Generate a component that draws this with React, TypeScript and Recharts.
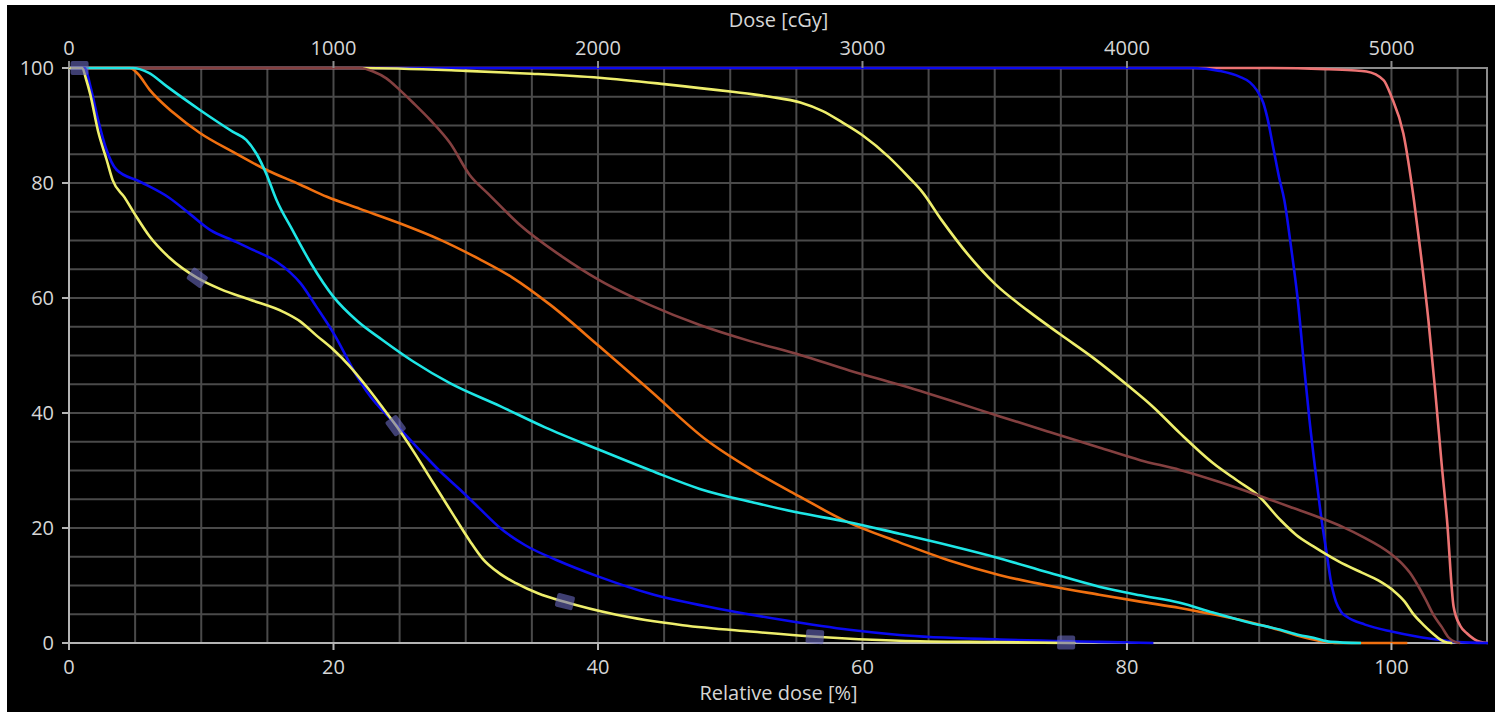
import { ComposedChart, Line, Scatter, XAxis, YAxis, CartesianGrid } from 'recharts';

// relative dose [%] vs volume [%]
const X_MAX = 107.3;
const PRESCRIPTION = 5000; // cGy at 100 %

const relTicks = [0, 20, 40, 60, 80, 100];
const doseTicks = [0, 1000, 2000, 3000, 4000, 5000];
const volTicks = [0, 20, 40, 60, 80, 100];
const gridX = [5, 10, 15, 20, 25, 30, 35, 40, 45, 50, 55, 60, 65, 70, 75, 80, 85, 90, 95, 100, 105];
const gridY = [5, 10, 15, 20, 25, 30, 35, 40, 45, 50, 55, 60, 65, 70, 75, 80, 85, 90, 95];

const toPts = (rows: number[][]) => rows.map(([x, y]) => ({ x, y }));

const redCurve = toPts([
  [0, 100], [90, 100], [95, 99.8], [97, 99.6], [98.1, 99.4], [99.4, 97.9], [100, 95], [100.9, 88.6],
  [101.7, 77], [102.2, 68], [102.8, 56], [103.3, 44], [103.8, 31], [104.2, 21.4], [104.7, 6.3], [105.2, 3],
  [105.7, 1.7], [106.7, 0.2], [107.3, 0],
]);

const blueRight = toPts([
  [0, 100], [85, 100], [87, 99.5], [88.5, 98.5], [89.3, 97.5], [89.8, 96.2], [90.3, 94], [90.6, 91.5],
  [91.1, 85.7], [91.5, 81], [91.9, 77], [92.4, 69], [92.9, 60], [93.4, 48], [93.8, 38.8], [94.3, 29],
  [94.7, 21.7], [95.1, 15.6], [95.4, 11], [95.8, 7.2], [96.2, 5.4], [96.6, 4.6], [98, 3.2], [100, 2],
  [102, 1.1], [103.8, 0.5], [105, 0.15], [107.3, 0],
]);

const brownCurve = toPts([
  [0, 100], [22, 100], [23, 99.4], [24, 98.2], [25, 96.2], [26, 94], [27.3, 91], [28.8, 87], [30.3, 81.4],
  [31.8, 77.9], [34.1, 72.7], [37.1, 67.5], [40.1, 63.1], [43.9, 58.8], [47.7, 55.3], [51.5, 52.5],
  [55.3, 50.1], [59, 47.4], [62.8, 44.9], [66.6, 42.2], [70.4, 39.4], [74, 36.8], [77.9, 34], [81, 31.8],
  [84, 30.1], [87, 28], [89.9, 25.7], [92.3, 23.7], [94.7, 21.7], [96.3, 20.2], [97.8, 18.5], [99.9, 15.6],
  [100.8, 13.8], [101.4, 12.2], [102, 10], [102.6, 7.5], [103.2, 4.8], [103.8, 2.8], [104.3, 1],
  [104.8, 0.2], [105.2, 0],
]);

const yellowRight = toPts([
  [0, 100], [22, 100], [30, 99.5], [35, 99], [40.1, 98.3], [45, 97.2], [50, 95.9], [53, 95], [55.3, 94],
  [57, 92.5], [58.5, 90.5], [60, 88.3], [62, 84.5], [63.5, 81], [64.5, 78.5], [66, 73.5], [68, 67.5],
  [70, 62.5], [72.5, 57.8], [75, 53.6], [77.5, 49.5], [80, 44.9], [82, 41], [84, 36.5], [86.5, 31.3],
  [88.5, 28], [89.9, 25.7], [91.6, 21.4], [92.8, 18.8], [94.1, 16.8], [96, 14.2], [97.8, 12.2], [99, 10.9],
  [100.1, 9.2], [101, 7.2], [101.6, 5.2], [102.4, 3.2], [103.1, 1.7], [103.7, 0.6], [104.2, 0.1], [104.6, 0],
]);

const orangeCurve = toPts([
  [0, 100], [4.6, 100], [5.2, 99], [6.1, 96.2], [7.9, 92.2], [9.9, 88.7], [12.4, 85.4], [14.9, 82.3],
  [17.5, 79.7], [19.5, 77.6], [22, 75.5], [25, 73], [28, 70.2], [31, 66.8], [33.5, 63.6], [36.4, 58.8],
  [40.1, 51.6], [43.9, 44], [48.2, 35.3], [51.5, 30.3], [55.3, 25.4], [58.8, 21.1], [62.8, 17.5],
  [66.5, 14.4], [70.4, 11.8], [74, 10], [77.9, 8.4], [81, 7.2], [84, 6.1], [86.5, 5], [89, 3.8],
  [91.6, 2.2], [93, 1.2], [94.5, 0.4], [96, 0], [101.2, 0],
]);

const cyanCurve = toPts([
  [0, 100], [4.8, 100], [6, 99.2], [7.4, 96.8], [9.9, 92.7], [12.4, 88.9], [13.4, 87.5], [14.2, 85],
  [14.9, 81.7], [15.7, 77], [16.9, 71.8], [18.3, 66], [20, 60.2], [21.8, 56], [23.7, 52.7], [26, 49],
  [28.8, 45.2], [32.6, 41.2], [36, 37.5], [40.1, 33.6], [44, 30], [47.7, 26.8], [52, 24.3], [55.3, 22.6],
  [58.8, 21.1], [62.8, 19], [66.5, 17], [70.4, 14.7], [74, 12.3], [77.9, 9.8], [81, 8.3], [84, 7],
  [86.5, 5.3], [89, 3.7], [91.6, 2.3], [93, 1.4], [94.1, 0.9], [95.4, 0.2], [97.7, 0],
]);

const blueLeft = toPts([
  [0, 100], [1.2, 100], [1.6, 97], [2.2, 91], [2.8, 86], [3.6, 82.3], [5.4, 80.2], [7.6, 77.4],
  [9.2, 74.5], [10.7, 71.8], [12.4, 70], [13.7, 68.6], [15.7, 66.3], [16.7, 64.5], [17.5, 62.6],
  [18.7, 58.5], [20, 53.9], [21.8, 46.3], [22.5, 43.8], [24.8, 37.8], [26.5, 33.6], [28, 30], [29.6, 26.6],
  [31, 23.5], [32.6, 20], [34.5, 17], [36.9, 14.4], [40.1, 11.5], [43.9, 8.6], [49, 6], [54, 4],
  [59, 2.3], [62.8, 1.4], [70.4, 0.6], [77.9, 0.2], [82, 0],
]);

const yellowLeft = toPts([
  [0, 100], [1, 100], [1.3, 98], [1.6, 95.5], [2.2, 89], [2.85, 84], [3.3, 80.5], [4.2, 77.5], [5, 74.5],
  [6.1, 70.7], [7.6, 67], [9.7, 63.5], [11.5, 61.5], [13.7, 59.7], [16.2, 57.6], [17.5, 55.9], [18.7, 53.5],
  [20, 51], [21.2, 48.2], [22.5, 44.6], [23.7, 41], [24.8, 37.6], [26, 33.5], [27.5, 28], [29, 22.5],
  [30.3, 17.8], [31.3, 14.6], [32.5, 12.2], [33.8, 10.4], [35.5, 8.6], [37.4, 7.2], [41.4, 4.9],
  [46.4, 3.1], [51.5, 2], [56.5, 1.1], [62.8, 0.4], [70, 0.15], [76.1, 0],
]);

// sampling markers along the left yellow curve
const markers = toPts([[0.8, 100], [9.7, 63.5], [24.7, 37.8], [37.5, 7.2], [56.4, 1.1], [75.4, 0.1]]);

const CHART_W = 1488;
const CHART_H = 707;
const Y_AXIS_W = 62;
const TOP_H = 63;
const BOTTOM_H = 69;
const RIGHT_M = 7;
const PLOT_W = CHART_W - Y_AXIS_W - RIGHT_M;
const PLOT_H = CHART_H - TOP_H - BOTTOM_H;

const textStyle = { fill: '#d6d6d6', fontSize: 20, fontFamily: '"Open Sans", sans-serif' };

const slopeAt = (x: number) => {
  for (let i = 1; i < yellowLeft.length; i++) {
    const a = yellowLeft[i - 1];
    const b = yellowLeft[i];
    if (x <= b.x) {
      const dx = (b.x - a.x) * (PLOT_W / X_MAX);
      const dy = (b.y - a.y) * (PLOT_H / 100);
      return Math.atan2(-dy, dx) * 180 / Math.PI;
    }
  }
  return 0;
};

const MarkerShape = (props: any) => {
  const { cx, cy, payload } = props;
  const angle = payload.x < 1.1 || payload.x > 70 ? 0 : slopeAt(payload.x);
  return (
    <rect x={cx - 9} y={cy - 7} width={18} height={14} rx={2}
      fill="rgba(105, 105, 190, 0.6)" transform={`rotate(${angle} ${cx} ${cy})`} />
  );
};

// drawn in this order, last on top
const series = [
  { key: 'red', data: redCurve, color: '#ec7373' },
  { key: 'blueR', data: blueRight, color: '#0a0af0' },
  { key: 'yellowR', data: yellowRight, color: '#eeee6c' },
  { key: 'brown', data: brownCurve, color: '#844040' },
  { key: 'orange', data: orangeCurve, color: '#f07010' },
  { key: 'cyan', data: cyanCurve, color: '#1ee6e6' },
  { key: 'blueL', data: blueLeft, color: '#0a0af0' },
  { key: 'yellowL', data: yellowLeft, color: '#eeee6c' },
];

const xPix = (offset: any, v: number) => offset.left + (v / X_MAX) * offset.width;
const yPix = (offset: any, v: number) => offset.top + (1 - v / 100) * offset.height;

export default function App() {
  return (
    <div style={{ position: 'absolute', left: 7, top: 5, width: CHART_W, height: CHART_H, background: '#000' }}>
      <ComposedChart width={CHART_W} height={CHART_H} margin={{ top: 0, right: RIGHT_M, bottom: 0, left: 0 }}>
        <CartesianGrid
          stroke="#4a4a4a"
          strokeWidth={2}
          verticalCoordinatesGenerator={({ offset }: any) => gridX.map((v) => xPix(offset, v))}
          horizontalCoordinatesGenerator={({ offset }: any) => gridY.map((v) => yPix(offset, v))}
        />
        {/* frame: top and right */}
        <CartesianGrid
          stroke="#8c8c8c"
          strokeWidth={2}
          verticalCoordinatesGenerator={({ offset }: any) => [xPix(offset, X_MAX) - 1]}
          horizontalCoordinatesGenerator={({ offset }: any) => [yPix(offset, 100)]}
        />
        {/* frame: axis lines bottom and left */}
        <CartesianGrid
          stroke="#b4b4b4"
          strokeWidth={2}
          verticalCoordinatesGenerator={({ offset }: any) => [xPix(offset, 0)]}
          horizontalCoordinatesGenerator={({ offset }: any) => [yPix(offset, 0)]}
        />
        <XAxis
          dataKey="x"
          type="number"
          domain={[0, X_MAX]}
          ticks={relTicks}
          allowDataOverflow
          height={BOTTOM_H}
          tickSize={7}
          tickMargin={10}
          tick={textStyle}
          axisLine={false}
          tickLine={{ stroke: '#b4b4b4', strokeWidth: 2 }}
          label={{ value: 'Relative dose [%]', position: 'insideBottom', offset: 12, ...textStyle }}
        />
        <XAxis
          xAxisId="top"
          orientation="top"
          dataKey="x"
          type="number"
          domain={[0, X_MAX]}
          ticks={doseTicks.map((d) => (d / PRESCRIPTION) * 100)}
          tickFormatter={(v: number) => String(Math.round((v * PRESCRIPTION) / 100))}
          allowDataOverflow
          height={TOP_H}
          tickSize={7}
          tickMargin={6}
          tick={textStyle}
          axisLine={false}
          tickLine={{ stroke: '#8c8c8c', strokeWidth: 2 }}
          label={{ value: 'Dose [cGy]', position: 'insideTop', offset: 8, ...textStyle }}
        />
        <YAxis
          dataKey="y"
          type="number"
          domain={[0, 100]}
          ticks={volTicks}
          width={Y_AXIS_W}
          tickSize={7}
          tickMargin={8}
          tick={textStyle}
          axisLine={false}
          tickLine={{ stroke: '#b4b4b4', strokeWidth: 2 }}
        />
        <Scatter data={markers} dataKey="y" shape={MarkerShape} isAnimationActive={false} />
        {series.map((s) => (
          <Line
            key={s.key}
            data={s.data}
            dataKey="y"
            type="monotone"
            stroke={s.color}
            strokeWidth={2.6}
            dot={false}
            activeDot={false}
            isAnimationActive={false}
          />
        ))}
      </ComposedChart>
    </div>
  );
}
